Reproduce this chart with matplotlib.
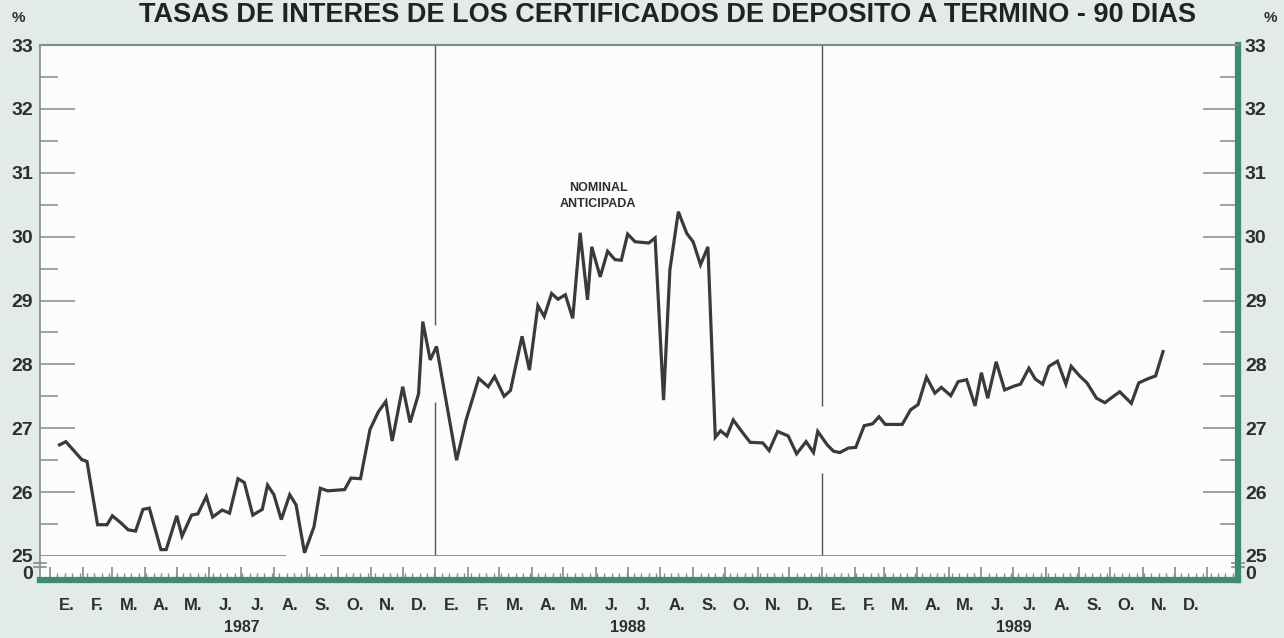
import numpy as np
from matplotlib import pyplot as plt

# weekly CDT 90-day rates, day of year of each observation
days_1987 = [9, 15, 23, 30, 35, 45, 54, 59, 67, 74, 81, 88, 94, 105, 110, 120, 125, 134, 140, 148,
             154, 163, 170, 178, 184, 192, 201, 206, 212, 219, 227, 233, 241, 250, 256, 263, 279, 285,
             294, 303, 311, 318, 324, 334, 341, 349, 353, 360]
vals_1987 = [26.74, 26.79, 26.64, 26.51, 26.48, 25.49, 25.49, 25.63, 25.52, 25.41, 25.39, 25.73, 25.75,
             25.10, 25.10, 25.63, 25.31, 25.64, 25.66, 25.93, 25.61, 25.72, 25.67, 26.21, 26.15, 25.64,
             25.73, 26.11, 25.96, 25.57, 25.96, 25.80, 25.05, 25.46, 26.06, 26.02, 26.04, 26.22, 26.21,
             26.98, 27.26, 27.42, 26.80, 27.65, 27.09, 27.54, 28.67, 28.07]

days_1988 = [1, 20, 29, 41, 50, 56, 65, 71, 82, 89, 97, 103, 110, 116, 123, 130, 137, 144, 148, 156,
             163, 170, 176, 182, 189, 202, 208, 216, 222, 230, 238, 244, 251, 258, 265, 270, 276, 282,
             290, 298, 310, 316, 324, 334, 342, 351, 358, 362]
vals_1988 = [28.28, 26.50, 27.13, 27.78, 27.65, 27.81, 27.50, 27.59, 28.44, 27.91, 28.92, 28.75, 29.11,
             29.02, 29.09, 28.72, 30.06, 29.01, 29.84, 29.37, 29.77, 29.64, 29.63, 30.04, 29.92, 29.90,
             29.98, 27.44, 29.48, 30.39, 30.05, 29.92, 29.56, 29.84, 26.86, 26.96, 26.88, 27.13, 26.95,
             26.78, 26.77, 26.65, 26.95, 26.88, 26.60, 26.79, 26.62, 26.95]

days_1989 = [5, 11, 17, 25, 32, 40, 48, 54, 60, 76, 84, 91, 99, 107, 113, 122, 129, 137, 145, 151,
             157, 165, 173, 182, 188, 196, 202, 209, 215, 223, 231, 236, 244, 251, 260, 268, 276, 282,
             293, 300, 308, 316, 323]
vals_1989 = [26.74, 26.64, 26.62, 26.69, 26.70, 27.04, 27.07, 27.18, 27.06, 27.06, 27.29, 27.37, 27.80,
             27.55, 27.64, 27.51, 27.73, 27.76, 27.35, 27.87, 27.47, 28.04, 27.60, 27.66, 27.69, 27.94,
             27.77, 27.69, 27.97, 28.05, 27.69, 27.97, 27.82, 27.71, 27.47, 27.40, 27.50, 27.57, 27.39,
             27.71, 27.77, 27.82, 28.20]

years = [1987, 1988, 1989]
month_labels = ['E.', 'F.', 'M.', 'A.', 'M.', 'J.', 'J.', 'A.', 'S.', 'O.', 'N.', 'D.']
title = 'TASAS DE INTERES DE LOS CERTIFICADOS DE DEPOSITO A TERMINO - 90 DIAS'

FONT = ['Liberation Sans', 'DejaVu Sans']
plt.rcParams['font.family'] = FONT
plt.rcParams['font.weight'] = 'bold'

BG = '#e2ebe7'
TEAL = '#3f8a74'
FRAME = '#7d8f88'
LINE = '#3a3a3a'
TXT = '#2e2e2e'

# x axis: days since 1987-01-01
start = np.datetime64('1987-01-01')
year_off = [(np.datetime64(f'{y}-01-01') - start).astype(int) for y in years]
x = np.concatenate([np.array(d) + off for d, off in zip([days_1987, days_1988, days_1989], year_off)])
y = np.concatenate([vals_1987, vals_1988, vals_1989])

months = np.arange('1987-01', '1990-02', dtype='datetime64[M]')
month_days = (months.astype('datetime64[D]') - start).astype(int)
month_mid = month_days[:-1] + np.diff(month_days) / 2

XMIN, XMAX = -9.5, 1125

fig = plt.figure(figsize=(12.84, 6.38), dpi=100)
fig.patch.set_facecolor(BG)

ax = fig.add_axes([40 / 1284, 1 - 556 / 638, 1198 / 1284, 511 / 638])
ax0 = fig.add_axes([40 / 1284, 1 - 580 / 638, 1198 / 1284, 24 / 638], sharex=ax)
for a in (ax, ax0):
    a.set_facecolor('#fbfcfb')

ax.set_xlim(XMIN, XMAX)
ax.set_ylim(25, 33)

# main series
ax.plot(x, y, color=LINE, lw=2.3, solid_joinstyle='miter', clip_on=False, zorder=5)

# year dividers, broken where the line passes
ax.vlines(year_off[1], 28.62, 33, color='#555555', lw=1.0)
ax.vlines(year_off[1], 25, 27.41, color='#555555', lw=1.0)
ax.vlines(year_off[2], 27.35, 33, color='#555555', lw=1.0)
ax.vlines(year_off[2], 25, 26.30, color='#555555', lw=1.0)

# the 25 line, broken at the August 1987 low
ax.hlines(25, XMIN, 223, color=FRAME, lw=1.3, clip_on=False)
ax.hlines(25, 256, XMAX, color=FRAME, lw=1.3, clip_on=False)

ax.text(519, 30.64, 'NOMINAL\nANTICIPADA', ha='center', va='center', fontsize=9,
        fontweight='bold', color=TXT, linespacing=1.4)

# spines
ax.spines['bottom'].set_visible(False)
ax.spines['top'].set_color(FRAME)
ax.spines['top'].set_linewidth(1.5)
ax.spines['left'].set_color(FRAME)
ax.spines['left'].set_linewidth(1.2)
ax.spines['right'].set_color(TEAL)
ax.spines['right'].set_linewidth(4.5)

ax.set_yticks(range(25, 34))
ax.set_yticks(np.arange(25.5, 33, 1), minor=True)
ax.tick_params(axis='y', which='both', direction='in', left=True, right=True,
               labelleft=True, labelright=True, color=FRAME, width=1.1, pad=5,
               labelsize=14, labelcolor=TXT)
ax.tick_params(axis='y', which='major', length=25)
ax.tick_params(axis='y', which='minor', length=13)
ax.tick_params(axis='x', which='both', bottom=False, labelbottom=False)
for t in (ax.yaxis.get_major_ticks()[0], ax.yaxis.get_major_ticks()[-1]):
    t.tick1line.set_visible(False)
    t.tick2line.set_visible(False)

# bottom strip with the zero and the weekly ticks
ax0.set_ylim(0, 1)
ax0.spines['top'].set_visible(False)
ax0.spines['left'].set_color(FRAME)
ax0.spines['left'].set_linewidth(1.2)
ax0.spines['right'].set_color(TEAL)
ax0.spines['right'].set_linewidth(4.5)
ax0.spines['bottom'].set_color(TEAL)
ax0.spines['bottom'].set_linewidth(4.5)
ax0.set_yticks([0.33])
ax0.set_yticklabels(['0'])
ax0.tick_params(axis='y', length=0, left=True, right=True, labelleft=True, labelright=True,
                pad=5, labelsize=14, labelcolor=TXT)
ax0.set_xticks(month_days)
ax0.set_xticks(np.arange(0, XMAX, 7), minor=True)
ax0.tick_params(axis='x', which='major', direction='in', length=9.5, width=1.2, color=FRAME,
                labelbottom=False)
ax0.tick_params(axis='x', which='minor', direction='in', length=5, width=1.0, color=FRAME)
ax0.set_xlim(XMIN, XMAX)

for side in (0.0, 1.0):
    for yy in (0.55, 0.72):
        ax0.plot([side - 0.005, side + 0.005], [yy, yy], color=FRAME, lw=1.2,
                 transform=ax0.transAxes, clip_on=False)

tr = ax0.get_xaxis_transform()
for i, xm in enumerate(month_mid):
    ax0.text(xm, -1.05, month_labels[i % 12], transform=tr, ha='center', va='center',
             fontsize=12, fontweight='bold', color=TXT)
for k, yr in enumerate(years):
    ax0.text(month_days[12 * k] + 182, -2.0, str(yr), transform=tr, ha='center', va='center',
             fontsize=11.5, fontweight='bold', color=TXT)

fig.text(668 / 1284, 1 - 22 / 638, title, ha='center', va='baseline', fontsize=19.5,
         fontweight='bold', color='#222222')
fig.text(18 / 1284, 1 - 18 / 638, '%', ha='center', va='center', fontsize=11,
         fontweight='bold', color=TXT)
fig.text(1270 / 1284, 1 - 18 / 638, '%', ha='center', va='center', fontsize=11,
         fontweight='bold', color=TXT)

fig.savefig('out.png', dpi=100, facecolor=BG)
